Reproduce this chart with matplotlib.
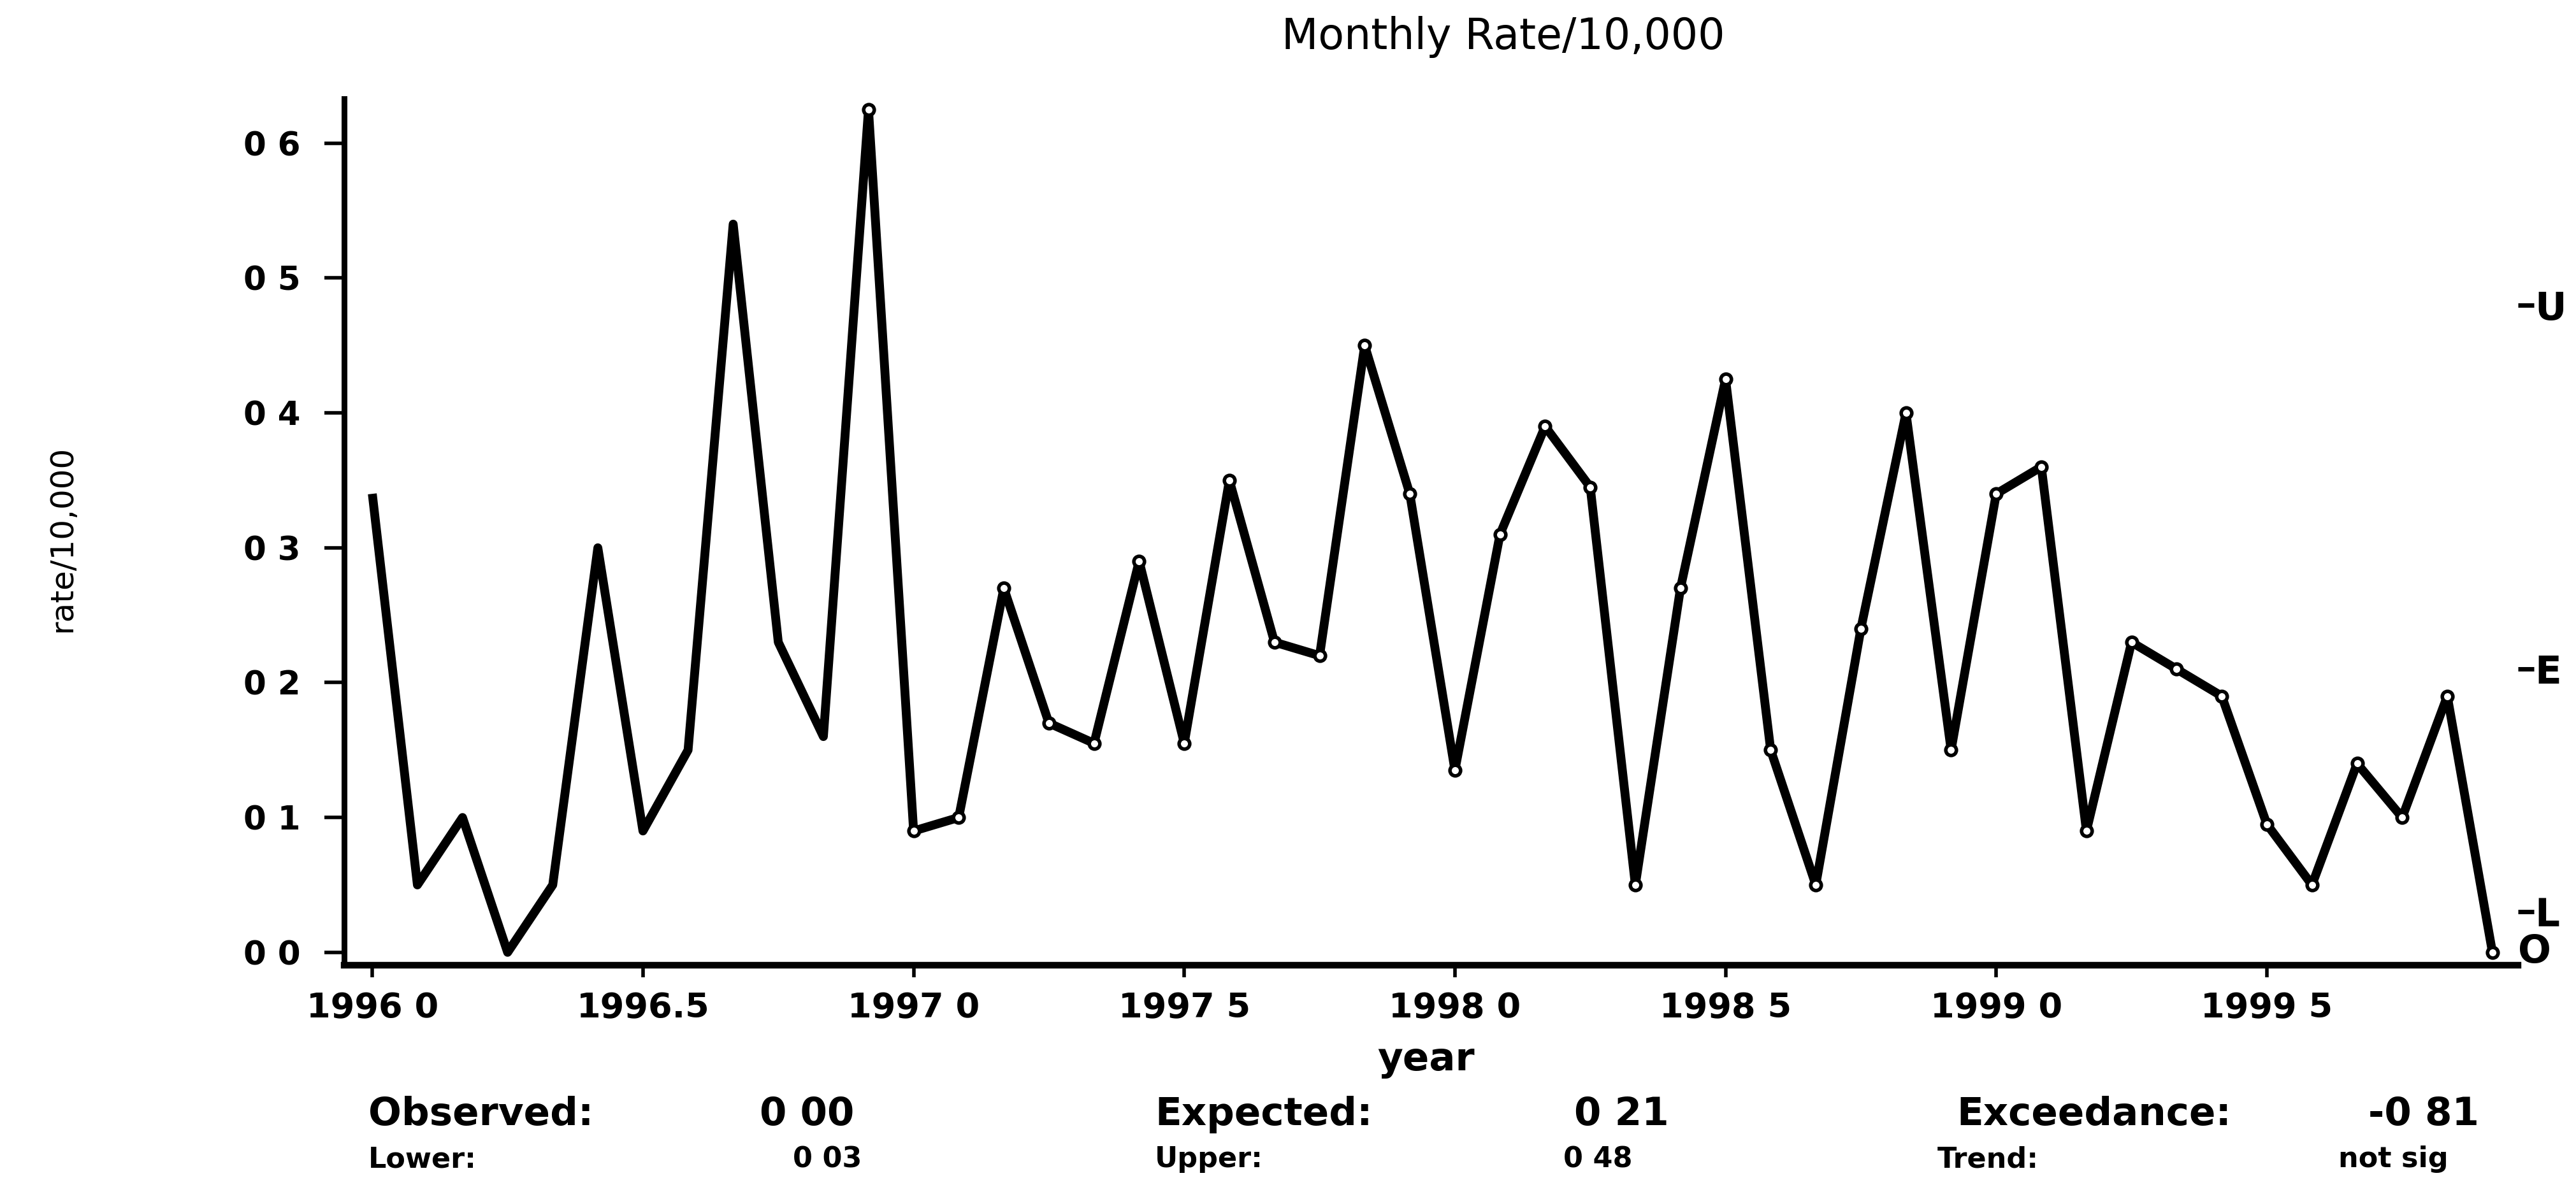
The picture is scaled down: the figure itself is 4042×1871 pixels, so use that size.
import numpy as np
import matplotlib.pyplot as plt
import matplotlib.transforms as mtransforms

# monthly rate per 10,000, Jan 1996 .. Dec 1999
rate = [0.34, 0.05, 0.10, 0.00, 0.05, 0.30, 0.09, 0.15, 0.54, 0.23, 0.16, 0.625,
        0.09, 0.10, 0.27, 0.17, 0.155, 0.29, 0.155, 0.35, 0.23, 0.22, 0.45, 0.34,
        0.135, 0.31, 0.39, 0.345, 0.05, 0.27, 0.425, 0.15, 0.05, 0.24, 0.40, 0.15,
        0.34, 0.36, 0.09, 0.23, 0.21, 0.19, 0.095, 0.05, 0.14, 0.10, 0.19, 0.00]
month = np.arange(len(rate))
year = 1996 + month / 12.0

xticks = [1996.0, 1996.5, 1997.0, 1997.5, 1998.0, 1998.5, 1999.0, 1999.5]
xticklabels = ['1996 0', '1996.5', '1997 0', '1997 5', '1998 0', '1998 5', '1999 0', '1999 5']
yticks = [0.0, 0.1, 0.2, 0.3, 0.4, 0.5, 0.6]
yticklabels = ['0 0', '0 1', '0 2', '0 3', '0 4', '0 5', '0 6']

# reference levels shown on the right edge
levels = [0.48, 0.21, 0.03]
level_names = ['U', 'E', 'L']
observed = 0.00

summary_top = [('Observed:', '0 00'), ('Expected:', '0 21'), ('Exceedance:', '-0 81')]
summary_bot = [('Lower:', '0 03'), ('Upper:', '0 48'), ('Trend:', 'not sig')]

fig = plt.figure(figsize=(40.42, 18.71), dpi=100)
ax = fig.add_axes([0.1336, 0.1903, 0.9775 - 0.1336, 0.9172 - 0.1903])

ax.plot(year, rate, color='black', lw=10, solid_joinstyle='round',
        solid_capstyle='butt', marker='o', markevery=list(range(11, len(rate))),
        ms=12, mfc='white', mec='black', mew=4)

ax.set_xlim(1995.948, 1999.964)
ax.set_ylim(-0.0095, 0.633)

for s in ['top', 'right']:
    ax.spines[s].set_visible(False)
ax.spines['left'].set_linewidth(6.5)
ax.spines['bottom'].set_linewidth(7.5)

ax.set_xticks(xticks)
ax.set_xticklabels(xticklabels, fontsize=39, fontweight='bold')
ax.set_yticks(yticks)
ax.set_yticklabels(yticklabels, fontsize=37, fontweight='bold')
ax.tick_params(axis='y', length=22, width=4, pad=27)
ax.tick_params(axis='x', length=14, width=4, pad=16)

# right side markers for the limits
ax2 = ax.twinx()
ax2.set_ylim(ax.get_ylim())
ax2.set_yticks(levels)
ax2.set_yticklabels(level_names, fontsize=44, fontweight='bold')
ax2.tick_params(axis='y', length=18, width=5, pad=1)
for s in ax2.spines.values():
    s.set_visible(False)

trans = mtransforms.blended_transform_factory(ax.transAxes, ax.transData)
ax.text(1.0, observed, 'O', transform=trans, ha='left', va='center',
        fontsize=44, fontweight='bold')

fig.text(0.5836, 0.969, 'Monthly Rate/10,000', ha='center', va='center', fontsize=48)
fig.text(0.5535, 0.102, 'year', ha='center', va='baseline', fontsize=44, fontweight='bold')
fig.text(0.0242, 0.548, 'rate/10,000', rotation=90, ha='center', va='center',
         fontsize=36, family=['Liberation Sans Narrow', 'DejaVu Sans'])

top_x = [(0.143, 0.2949), (0.4483, 0.6111), (0.7595, 0.9193)]
bot_x = [(0.143, 0.3078), (0.4483, 0.6069), (0.7521, 0.9077)]
for (name, val), (x1, x2) in zip(summary_top, top_x):
    fig.text(x1, 0.0647, name, ha='left', va='center', fontsize=44, fontweight='bold')
    fig.text(x2, 0.0647, val, ha='left', va='center', fontsize=44, fontweight='bold')
for (name, val), (x1, x2) in zip(summary_bot, bot_x):
    fig.text(x1, 0.0273, name, ha='left', va='center', fontsize=32, fontweight='bold')
    fig.text(x2, 0.0273, val, ha='left', va='center', fontsize=32, fontweight='bold')

fig.savefig('out.png', dpi=100, facecolor='white')
